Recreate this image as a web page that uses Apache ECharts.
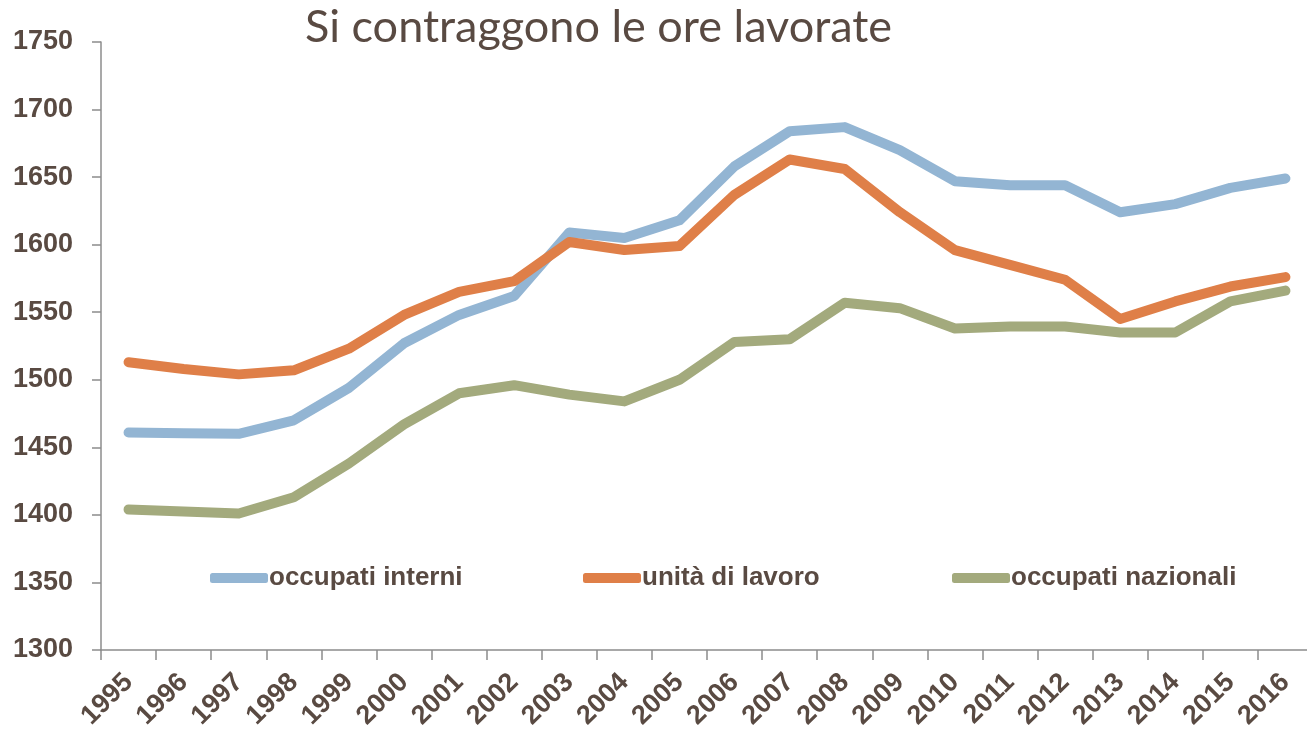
<!DOCTYPE html>
<html>
<head>
<meta charset="utf-8">
<script src="https://cdn.jsdelivr.net/npm/echarts@6/dist/echarts.min.js"></script>
<style>
html,body{margin:0;padding:0;background:#fff;overflow:hidden;}
#chart{width:1330px;height:736px;}
</style>
</head>
<body>
<div id="chart"></div>
<script>
const years = ['1995','1996','1997','1998','1999','2000','2001','2002','2003','2004','2005','2006','2007','2008','2009','2010','2011','2012','2013','2014','2015','2016'];
const occupatiInterni = [1461,1460.5,1460,1470,1494,1527,1548,1562,1609,1605,1618,1658,1684,1687,1670,1647,1644,1644,1624,1630,1642,1649];
const unitaDiLavoro = [1513,1508,1504,1507,1523,1548,1565,1573,1602,1596,1599,1637,1663,1656,1624,1596,1585,1574,1545,1558,1569,1576];
const occupatiNazionali = [1404,1402.5,1401,1413,1438,1467,1490,1496,1489,1484,1500,1528,1530,1557,1553,1538,1539.5,1539.5,1535,1535,1558,1566];
const seriesNames = ['occupati interni','unità di lavoro','occupati nazionali'];
const yTicks = {min:1300, max:1750, interval:50};

const textColor = '#594a42';
const sans = "'Liberation Sans',Arial,sans-serif";
const colors = ['#93b5d3','#df7f48','#a3aa7d'];

const chart = echarts.init(document.getElementById('chart'));
const mkLegend = (name, left) => ({
  left: left, top: 565, padding:0, data:[name], icon:'roundRect',
  itemWidth: 58, itemHeight: 10,
  textStyle:{color:textColor, fontFamily:sans, fontWeight:'bold', fontSize:26, padding:[0,0,0,-4]}
});
chart.setOption({
  animation:false,
  title:{text:'Si contraggono le ore lavorate', left:300, top:0,
    textStyle:{color:textColor, fontFamily:"Lato,'Open Sans',sans-serif", fontWeight:'normal', fontSize:45}},
  legend:[mkLegend(seriesNames[0],210), mkLegend(seriesNames[1],583), mkLegend(seriesNames[2],952)],
  grid:{left:101, top:42, height:608, width:1212, containLabel:false},
  xAxis:{type:'category', data:years, boundaryGap:true,
    axisLine:{lineStyle:{color:'#8c8c8c', width:1.5}},
    axisTick:{show:true, length:10, alignWithLabel:false, lineStyle:{color:'#8c8c8c', width:1.5}},
    axisLabel:{rotate:45, interval:0, margin:28, color:textColor, fontFamily:sans, fontWeight:'bold', fontSize:27}},
  yAxis:{type:'value', min:yTicks.min, max:yTicks.max, interval:yTicks.interval,
    splitLine:{show:false},
    axisLine:{show:true, lineStyle:{color:'#8c8c8c', width:1.5}},
    axisTick:{show:true, length:9, lineStyle:{color:'#8c8c8c', width:1.5}},
    axisLabel:{margin:28, color:textColor, fontFamily:sans, fontWeight:'bold', fontSize:27, formatter:v=>String(v)}},
  series:[
    {name:seriesNames[0], type:'line', data:occupatiInterni, showSymbol:false, symbol:'none', color:colors[0], lineStyle:{width:10, cap:'round', join:'round'}},
    {name:seriesNames[1], type:'line', data:unitaDiLavoro, showSymbol:false, symbol:'none', color:colors[1], lineStyle:{width:10, cap:'round', join:'round'}},
    {name:seriesNames[2], type:'line', data:occupatiNazionali, showSymbol:false, symbol:'none', color:colors[2], lineStyle:{width:10, cap:'round', join:'round'}}
  ]
});
</script>
</body>
</html>
